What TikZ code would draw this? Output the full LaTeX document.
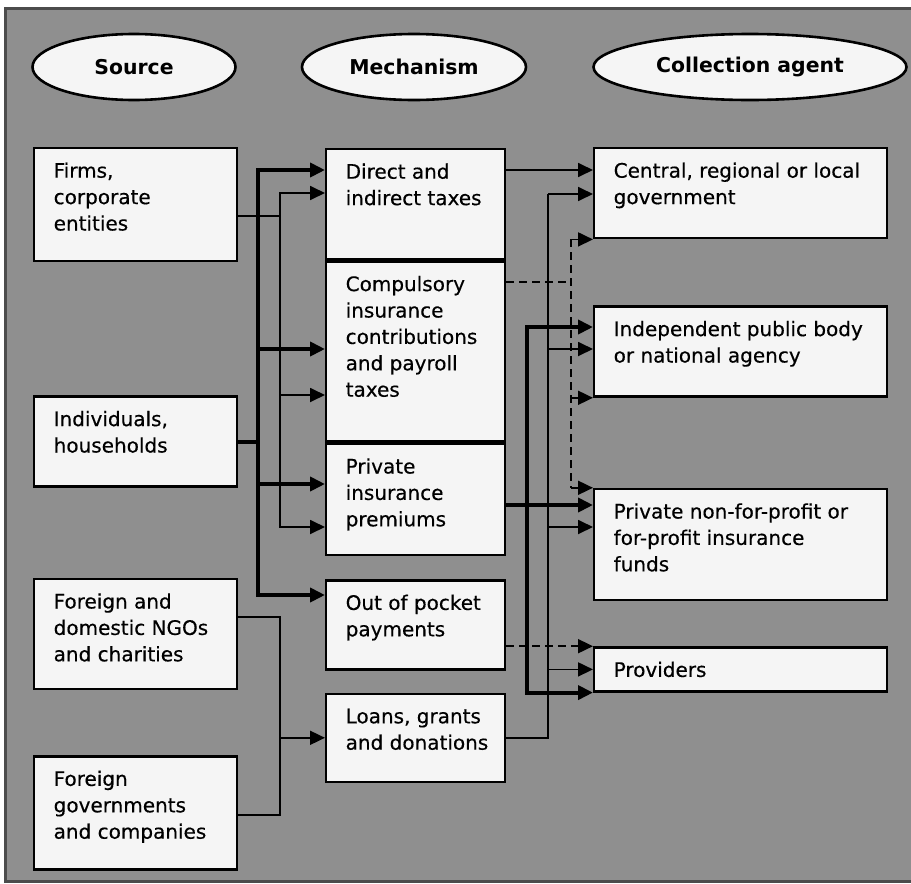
\documentclass[tikz,border=0pt]{standalone}
\usepackage{fontspec}
\setmainfont{DejaVu Sans}
\newfontfamily\celltext{DejaVu Sans}[FakeBold=0.4]
\usetikzlibrary{positioning, arrows.meta, shapes.geometric}

\definecolor{panel}{gray}{0.56}
\newcommand{\boxtext}[3]{\hspace*{9.75pt}\parbox[t][#2][t]{\dimexpr#1-9.75pt\relax}{\raggedright\rule{0pt}{14.75pt}#3}}

\begin{document}
\begin{tikzpicture}[
    x=0.5pt, y=-0.5pt,
    header/.style    = {draw, ellipse, line width=1.3pt, fill=white!96!black, inner sep=0pt, minimum height=33pt, font=\bfseries\fontsize{10.2}{12}\selectfont},
    cell/.style      = {draw, rectangle, line width=1.2pt, fill=white!96!black, inner sep=0pt, anchor=north west, font=\celltext\fontsize{10}{13.2}\selectfont},
    thinline/.style  = {line width=0.9pt},
    thickline/.style = {line width=2.1pt},
    dashline/.style  = {line width=0.9pt, dash pattern=on 4pt off 2.5pt},
    arr/.style       = {-{Triangle[length=7.5pt, width=7pt]}}
]
\useasboundingbox (0,0) rectangle (911,884);

% Podklad
\fill[white] (0,0) rectangle (911,884);
\fill[panel] (5,8) rectangle (911,881);
\draw[black!70, line width=1.5pt] (911,8) -- (5,8) -- (5,881) -- (911,881);

% Zahlavi sloupcu
\node[header, minimum width=101.5pt] (srchead)   at (134,67) {Source};
\node[header, minimum width=112pt]   (mechhead)  at (414,67) {Mechanism};
\node[header, minimum width=156.5pt] (agenthead) at (750,67) {Collection agent};

% Zdroje
\node[cell] (firms) at (33,147) {\boxtext{101.5pt}{56.5pt}{Firms,\\corporate\\entities}};
\node[cell, below right=66.5pt and 0pt of firms.south west] (indiv)  {\boxtext{101.5pt}{45pt}{Individuals,\\households}};
\node[cell, below right=45pt and 0pt of indiv.south west]   (ngo)    {\boxtext{101.5pt}{55pt}{Foreign and\\domestic NGOs\\and charities}};
\node[cell, below right=32.5pt and 0pt of ngo.south west]   (forgov) {\boxtext{101.5pt}{56.5pt}{Foreign\\governments\\and companies}};

% Mechanismy
\node[cell] (direct) at (325,148) {\boxtext{89.5pt}{55pt}{Direct and\\indirect taxes}};
\node[cell, below right=0pt and 0pt of direct.south west]  (compul)  {\boxtext{89.5pt}{90pt}{Compulsory\\insurance\\contributions\\and payroll\\taxes}};
\node[cell, below right=0pt and 0pt of compul.south west]  (privins) {\boxtext{89.5pt}{55.5pt}{Private\\insurance\\premiums}};
\node[cell, below right=11.5pt and 0pt of privins.south west] (oop)  {\boxtext{89.5pt}{44.5pt}{Out of pocket\\payments}};
\node[cell, below right=11pt and 0pt of oop.south west]    (loans)   {\boxtext{89.5pt}{44pt}{Loans, grants\\and donations}};

% Sberne subjekty
\node[cell] (central) at (593,147) {\boxtext{146.5pt}{45pt}{Central, regional or local\\government}};
\node[cell, below right=33pt and 0pt of central.south west]  (indep)     {\boxtext{146.5pt}{45pt}{Independent public body\\or national agency}};
\node[cell, below right=45pt and 0pt of indep.south west]    (privfund)  {\boxtext{146.5pt}{55.5pt}{Private non-for-profit or\\for-profit insurance\\funds}};
\node[cell, below right=22.5pt and 0pt of privfund.south west] (providers) {\boxtext{146.5pt}{22pt}{Providers}};

% Odbocky na sbernicich
\coordinate (a1) at (258,170);
\coordinate (a2) at (258,349);
\coordinate (a3) at (258,484);
\coordinate (a4) at (258,595);
\coordinate (bf) at (280,216);
\coordinate (b1) at (280,193);
\coordinate (b2) at (280,395);
\coordinate (b3) at (280,527);
\coordinate (g1) at (280,617);
\coordinate (g2) at (280,815);
\coordinate (c1) at (527,327);
\coordinate (rj) at (527,505);
\coordinate (d1) at (548,194);
\coordinate (d2) at (548,349);
\coordinate (d3) at (548,527);
\coordinate (e1) at (571,282);

% Zdroje -> mechanismy (silne)
\draw[thickline] (indiv.east) -- (indiv.east -| a1);
\draw[thickline, line cap=rect] (a1) -- (a4);
\draw[thickline, arr] (a1) -- (a1 -| direct.west);
\draw[thickline, arr] (a2) -- (a2 -| compul.west);
\draw[thickline, arr] (a3) -- (a3 -| privins.west);
\draw[thickline, arr] (a4) -- (a4 -| oop.west);

% Zdroje -> mechanismy (tenke)
\draw[thinline] (bf -| firms.east) -- (bf);
\draw[thinline, line cap=rect] (b1) -- (b3);
\draw[thinline, arr] (b1) -- (b1 -| direct.west);
\draw[thinline, arr] (b2) -- (b2 -| compul.west);
\draw[thinline, arr] (b3) -- (b3 -| privins.west);

% Zahranici -> pujcky
\draw[thinline] (g1 -| ngo.east) -- (g1) -- (g2) -- (g2 -| forgov.east);
\draw[thinline, arr] (loans.west -| g1) -- (loans.west);

% Mechanismy -> sberne subjekty
\draw[thinline, arr] (a1 -| direct.east) -- (a1 -| central.west);
\draw[thinline] (loans.east) -- (loans.east -| d1) -- (d1);
\draw[thinline, arr] (d1) -- (d1 -| central.west);
\draw[thinline, arr] (d2) -- (d2 -| indep.west);
\draw[thinline, arr] (d3) -- (d3 -| privfund.west);
\draw[thinline, arr] (providers.west -| d1) -- (providers.west);

% Soukrome pojisteni (silne)
\draw[thickline, arr] (rj -| privins.east) -- (rj -| privfund.west);
\draw[thickline, line cap=rect] (c1) -- (providers.south west -| c1);
\draw[thickline, arr] (c1) -- (c1 -| indep.west);
\draw[thickline, arr] (providers.south west -| c1) -- (providers.south west);

% Carkovane vazby
\draw[dashline] (e1 -| compul.east) -- (e1);
\draw[dashline] (central.south west -| e1) -- (privfund.north west -| e1);
\draw[dashline, arr] (central.south west -| e1) -- (central.south west);
\draw[dashline, arr] (indep.south west -| e1) -- (indep.south west);
\draw[dashline, arr] (privfund.north west -| e1) -- (privfund.north west);
\draw[dashline, arr] (providers.north west -| oop.east) -- (providers.north west);

\end{tikzpicture}
\end{document}
